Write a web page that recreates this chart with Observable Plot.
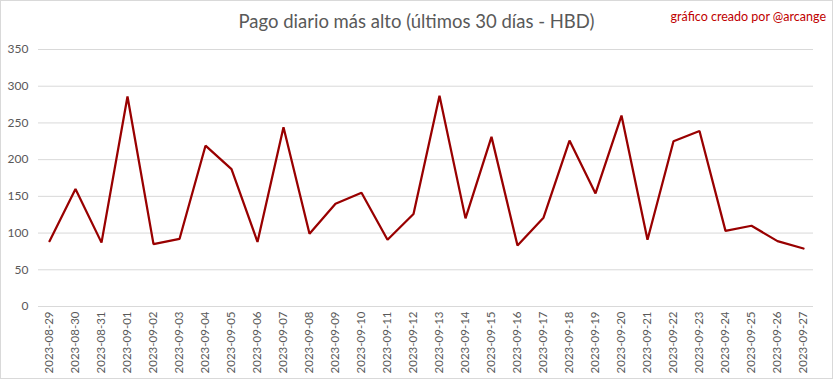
<!DOCTYPE html>
<html><head><meta charset="utf-8">
<script src="https://cdn.jsdelivr.net/npm/d3@7"></script>
<script src="https://cdn.jsdelivr.net/npm/@observablehq/plot@0.6"></script>
<style>
html,body{margin:0;padding:0;background:#fff;}
#chart{position:relative;width:831px;height:377px;border:1px solid #d9d9d9;font-family:Lato,"Open Sans",sans-serif;overflow:hidden;}
#title{position:absolute;left:0;top:9px;width:831px;text-align:center;font-size:18.5px;color:#595959;font-weight:400;}
#credit{position:absolute;right:6px;top:8px;font-size:12.5px;color:#c00000;}
#plot{position:absolute;left:0;top:40px;}
</style></head>
<body>
<div id="chart">
<div id="title">Pago diario más alto (últimos 30 días - HBD)</div>
<div id="credit">gráfico creado por @arcange</div>
<div id="plot"></div>
</div>
<script>
const dates = ["2023-08-29","2023-08-30","2023-08-31","2023-09-01","2023-09-02","2023-09-03","2023-09-04","2023-09-05","2023-09-06","2023-09-07","2023-09-08","2023-09-09","2023-09-10","2023-09-11","2023-09-12","2023-09-13","2023-09-14","2023-09-15","2023-09-16","2023-09-17","2023-09-18","2023-09-19","2023-09-20","2023-09-21","2023-09-22","2023-09-23","2023-09-24","2023-09-25","2023-09-26","2023-09-27"];
const values = [89,160,87,286,85,92,219,187,88,244,99,140,155,91,126,287,120,231,83,121,226,154,260,91,225,239,103,110,89,79];
const yTicks = [0,50,100,150,200,250,300,350];

const data = dates.map((d,i)=>({date:d,value:values[i]}));

const chart = Plot.plot({
  width: 831,
  height: 337,
  marginTop: 8,
  marginBottom: 72,
  marginLeft: 37,
  marginRight: 19,
  style: {fontFamily: "Lato, 'Open Sans', sans-serif", fontSize: "12px", color: "#595959", background: "#fff"},
  x: {type: "point", domain: dates, padding: 0.3, label: null},
  y: {domain: [0,350], label: null},
  marks: [
    Plot.ruleY(yTicks, {stroke: "#d9d9d9", strokeWidth: 1}),
    Plot.axisY({ticks: yTicks, tickSize: 0, tickPadding: 10, fontSize: 12, fill: "#595959"}),
    Plot.axisX({tickSize: 0, tickPadding: 5, tickRotate: -90, fontSize: 11.5, fill: "#595959"}),
    Plot.line(data, {x: "date", y: "value", stroke: "#990000", strokeWidth: 2.25, strokeLinejoin: "miter"})
  ]
});
document.getElementById("plot").appendChild(chart);
</script>
</body></html>
